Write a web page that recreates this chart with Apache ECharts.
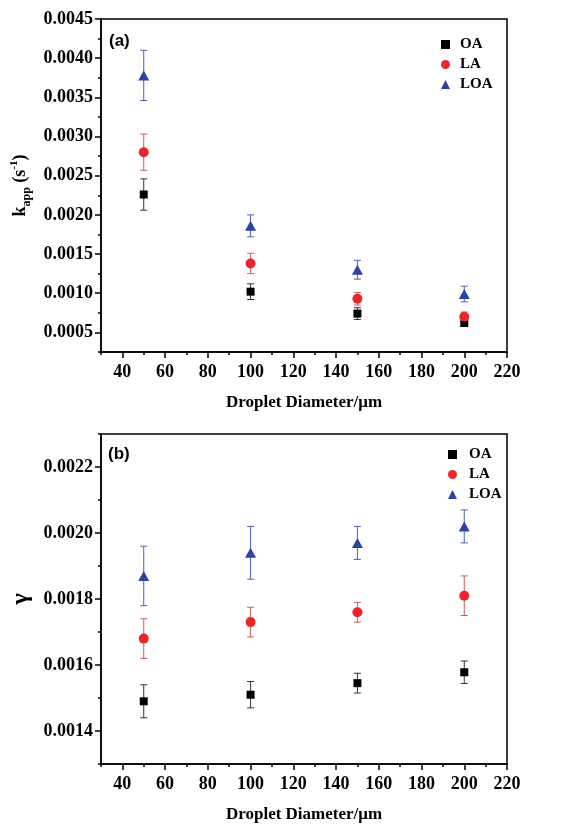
<!DOCTYPE html>
<html>
<head>
<meta charset="utf-8">
<script src="https://cdn.jsdelivr.net/npm/echarts@6/dist/echarts.min.js"></script>
<style>
  html, body { margin: 0; padding: 0; background: #fff; }
  #chart { width: 576px; height: 824px; }
</style>
</head>
<body>
<div id="chart"></div>
<script>
// Droplet diameters (µm)
const diameters = [50, 100, 150, 200];

// Panel (a): apparent rate constant k_app (s^-1) with error bars
const kOA = [0.00226, 0.00102, 0.00074, 0.00062];
const kOAErr = [0.0002, 0.0001, 0.000075, 0.00003];
const kLA = [0.0028, 0.00138, 0.00093, 0.0007];
const kLAErr = [0.00023, 0.00013, 0.00008, 0.00006];
const kLOA = [0.00378, 0.00186, 0.0013, 0.00099];
const kLOAErr = [0.00032, 0.00014, 0.00012, 0.0001];

// Panel (b): uptake coefficient gamma with error bars
const gOA = [0.00149, 0.00151, 0.001545, 0.001578];
const gOAErr = [0.00005, 0.00004, 0.00003, 0.000034];
const gLA = [0.00168, 0.00173, 0.00176, 0.00181];
const gLAErr = [0.00006, 0.000045, 0.00003, 0.00006];
const gLOA = [0.00187, 0.00194, 0.00197, 0.00202];
const gLOAErr = [0.00009, 0.00008, 0.00005, 0.00005];

// Tick positions
const xTicks = [40, 60, 80, 100, 120, 140, 160, 180, 200, 220];
const xMinor = [30, 50, 70, 90, 110, 130, 150, 170, 190, 210];
const yTicksA = [0.0005, 0.001, 0.0015, 0.002, 0.0025, 0.003, 0.0035, 0.004, 0.0045];
const yMinorA = [0.00025, 0.00075, 0.00125, 0.00175, 0.00225, 0.00275, 0.00325, 0.00375, 0.00425];
const yTicksB = [0.0014, 0.0016, 0.0018, 0.002, 0.0022];
const yMinorB = [0.0013, 0.0015, 0.0017, 0.0019, 0.0021, 0.0023];

const seriesNames = ['OA', 'LA', 'LOA'];
const markColors = ['#000000', '#e8272a', '#2c43a3'];
const barColors = ['#333333', '#d45a5a', '#4d5fb2'];
const symbols = ['rect', 'circle', 'triangle'];
const symbolSizes = [8, 10, [11, 10]];

const serif = '"Liberation Serif", "Times New Roman", serif';
const sans = '"Liberation Sans", Arial, sans-serif';

function zip(xs, ys) { return xs.map((x, i) => [x, ys[i]]); }
function errData(xs, ys, es) { return xs.map((x, i) => [x, ys[i] - es[i], ys[i] + es[i]]); }

function errorSeries(name, data, color, gi) {
  return {
    type: 'custom', name: name, xAxisIndex: gi * 2, yAxisIndex: gi * 2, z: 2,
    silent: true, legendHoverLink: false,
    data: data,
    encode: { x: 0, y: [1, 2] },
    renderItem: function (params, api) {
      const x = api.value(0);
      const lo = api.coord([x, api.value(1)]);
      const hi = api.coord([x, api.value(2)]);
      const cap = 3.5;
      const style = { stroke: color, lineWidth: 1 };
      return {
        type: 'group',
        children: [
          { type: 'line', shape: { x1: lo[0], y1: lo[1], x2: hi[0], y2: hi[1] }, style: style },
          { type: 'line', shape: { x1: lo[0] - cap, y1: lo[1], x2: lo[0] + cap, y2: lo[1] }, style: style },
          { type: 'line', shape: { x1: hi[0] - cap, y1: hi[1], x2: hi[0] + cap, y2: hi[1] }, style: style }
        ]
      };
    }
  };
}

function pointSeries(idx, data, gi) {
  return {
    type: 'scatter', name: seriesNames[idx], xAxisIndex: gi * 2, yAxisIndex: gi * 2, z: 3,
    symbol: symbols[idx], symbolSize: symbolSizes[idx],
    itemStyle: { color: markColors[idx], opacity: 1 },
    data: data
  };
}

const tickLabelStyle = { fontFamily: serif, fontWeight: 'bold', fontSize: 18, color: '#000' };
const axisLineStyle = { color: '#000', width: 1.5 };

function xAxes(gi) {
  return [
    {
      type: 'value', gridIndex: gi, min: 30, max: 220, position: 'bottom',
      axisLine: { show: true, lineStyle: axisLineStyle },
      axisTick: { show: true, customValues: xTicks, length: 6, inside: false, lineStyle: { color: '#000', width: 1.5 } },
      axisLabel: { customValues: xTicks, margin: 11, ...tickLabelStyle },
      splitLine: { show: false },
      name: 'Droplet Diameter/\u03bcm', nameLocation: 'middle', nameGap: 42,
      nameTextStyle: { fontFamily: serif, fontWeight: 'bold', fontSize: 17, color: '#000' }
    },
    {
      type: 'value', gridIndex: gi, min: 30, max: 220, position: 'bottom',
      axisLine: { show: false },
      axisTick: { show: true, customValues: xMinor, length: 3, lineStyle: { color: '#000', width: 1.5 } },
      axisLabel: { show: false },
      splitLine: { show: false }
    }
  ];
}

function yAxes(gi, min, max, ticks, minor, name, nameGap, nameStyle) {
  return [
    {
      type: 'value', gridIndex: gi, min: min, max: max, position: 'left',
      axisLine: { show: true, lineStyle: axisLineStyle },
      axisTick: { show: true, customValues: ticks, length: 6, lineStyle: { color: '#000', width: 1.5 } },
      axisLabel: { customValues: ticks, margin: 8, formatter: v => v.toFixed(4), ...tickLabelStyle },
      splitLine: { show: false },
      name: name, nameLocation: 'middle', nameRotate: 90, nameGap: nameGap,
      nameTextStyle: nameStyle
    },
    {
      type: 'value', gridIndex: gi, min: min, max: max, position: 'left',
      axisLine: { show: false },
      axisTick: { show: true, customValues: minor, length: 3, lineStyle: { color: '#000', width: 1.5 } },
      axisLabel: { show: false },
      splitLine: { show: false }
    }
  ];
}

const kNameStyle = {
  fontFamily: serif, fontWeight: 'bold', fontSize: 18, color: '#000',
  rich: {
    m: { fontFamily: serif, fontWeight: 'bold', fontSize: 18, lineHeight: 24, color: '#000' },
    sub: { fontFamily: serif, fontWeight: 'bold', fontSize: 12, lineHeight: 24, verticalAlign: 'bottom', color: '#000' },
    sup: { fontFamily: serif, fontWeight: 'bold', fontSize: 11, lineHeight: 24, verticalAlign: 'top', color: '#000' }
  }
};
const gNameStyle = { fontFamily: serif, fontWeight: 'bold', fontSize: 24, color: '#000' };

function legend(left, top, textPad) {
  return {
    orient: 'vertical', left: left, top: top, itemGap: 5,
    itemWidth: 9, itemHeight: 9,
    data: seriesNames.map((n, i) => ({ name: n, icon: symbols[i], itemStyle: { color: markColors[i] } })),
    textStyle: { fontFamily: serif, fontWeight: 'bold', fontSize: 15, color: '#000', padding: [0, 0, 0, textPad] },
    selectedMode: false
  };
}

const chart = echarts.init(document.getElementById('chart'), null, { renderer: 'canvas' });

const option = {
  animation: false,
  backgroundColor: '#fff',
  grid: [
    { left: 101, right: 69, top: 19, height: 333, show: true, borderColor: '#000', borderWidth: 1.5, backgroundColor: 'transparent' },
    { left: 101, right: 69, top: 434, height: 331, show: true, borderColor: '#000', borderWidth: 1.5, backgroundColor: 'transparent' }
  ],
  xAxis: [...xAxes(0), ...xAxes(1)],
  yAxis: [
    ...yAxes(0, 0.00025, 0.0045, yTicksA, yMinorA, '{m|k}{sub|app}{m| (s}{sup|-1}{m|)}', 60, kNameStyle),
    ...yAxes(1, 0.0013, 0.0023, yTicksB, yMinorB, '\u03b3', 52, gNameStyle)
  ],
  legend: [legend(436, 32, 5), legend(443, 442, 7)],
  graphic: [
    { type: 'text', left: 109, top: 33, style: { text: '(a)', fontFamily: sans, fontWeight: 'bold', fontSize: 17, fill: '#000' } },
    { type: 'text', left: 108, top: 446, style: { text: '(b)', fontFamily: sans, fontWeight: 'bold', fontSize: 17, fill: '#000' } }
  ],
  series: [
    errorSeries('OA', errData(diameters, kOA, kOAErr), barColors[0], 0),
    errorSeries('LA', errData(diameters, kLA, kLAErr), barColors[1], 0),
    errorSeries('LOA', errData(diameters, kLOA, kLOAErr), barColors[2], 0),
    pointSeries(0, zip(diameters, kOA), 0),
    pointSeries(1, zip(diameters, kLA), 0),
    pointSeries(2, zip(diameters, kLOA), 0),
    errorSeries('OA', errData(diameters, gOA, gOAErr), barColors[0], 1),
    errorSeries('LA', errData(diameters, gLA, gLAErr), barColors[1], 1),
    errorSeries('LOA', errData(diameters, gLOA, gLOAErr), barColors[2], 1),
    pointSeries(0, zip(diameters, gOA), 1),
    pointSeries(1, zip(diameters, gLA), 1),
    pointSeries(2, zip(diameters, gLOA), 1)
  ]
};

chart.setOption(option);
</script>
</body>
</html>
